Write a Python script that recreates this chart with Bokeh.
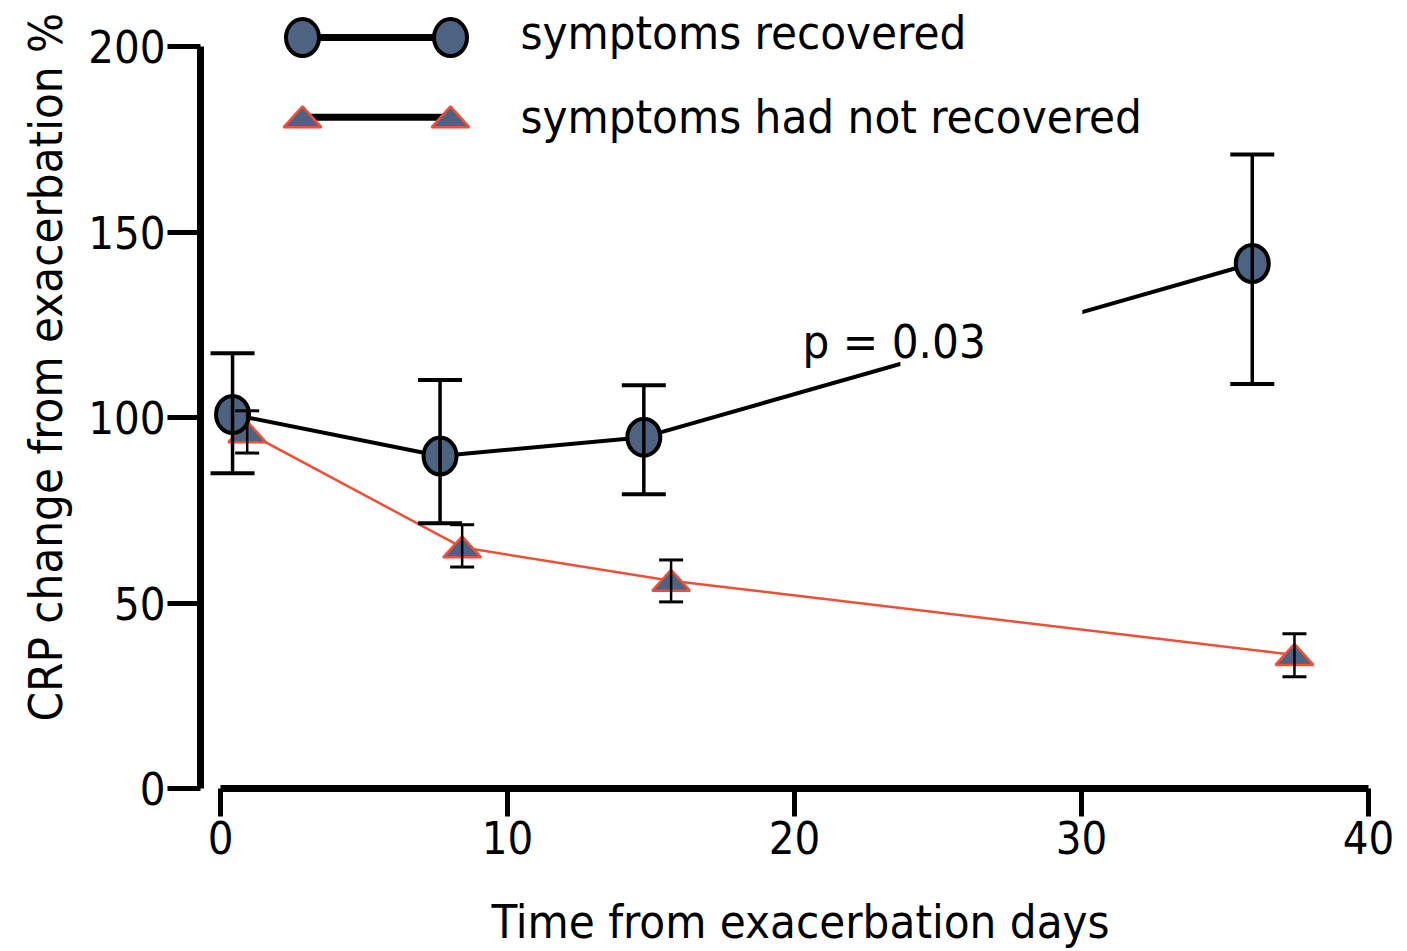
import numpy as np
from bokeh.plotting import figure
from bokeh.models import Range1d, FixedTicker, Whisker, ColumnDataSource, Label, BoxAnnotation, TeeHead, Title
from bokeh.embed import file_html
from bokeh.resources import INLINE

# ---------------- data ----------------
days_rec = [0.42, 7.65, 14.75, 35.95]
crp_rec = [100.8, 89.6, 94.7, 141.5]
rec_low = [85.0, 71.5, 79.3, 109.0]
rec_high = [117.3, 110.1, 108.7, 170.9]

days_not = [0.93, 8.42, 15.70, 37.42]
crp_not = [96.0, 65.0, 56.0, 36.0]
not_low = [90.4, 59.7, 50.3, 30.1]
not_high = [101.8, 71.1, 61.6, 41.7]

x_ticks = [0, 10, 20, 30, 40]
y_ticks = [0, 50, 100, 150, 200]
series_names = ["symptoms recovered", "symptoms had not recovered"]
x_title = "Time from exacerbation days"
y_title = "CRP change from exacerbation %"
p_text = "p = 0.03"

FONT = "DejaVu Sans Condensed"
FILL = "#4E6282"
RED = "#EF4F37"

p = figure(width=1407, height=951, x_range=Range1d(-0.697, 41.115), y_range=Range1d(0, 212.4),
           output_backend="svg", toolbar_location=None,
           min_border_left=200, min_border_right=7, min_border_top=0, min_border_bottom=162)
p.outline_line_color = None
p.xgrid.visible = False
p.ygrid.visible = False

# axes
for ax, ticks, bounds in ((p.xaxis, x_ticks, (0, 40)), (p.yaxis, y_ticks, (0, 200))):
    ax.ticker = FixedTicker(ticks=ticks)
    ax.bounds = bounds
    ax.axis_line_width = 7
    ax.axis_line_color = "black"
    ax.major_tick_line_width = 5
    ax.major_tick_line_color = "black"
    ax.major_tick_in = 0
    ax.minor_tick_line_color = None
    ax.major_label_text_font = FONT
    ax.major_label_text_font_size = "45px"
    ax.major_label_text_color = "black"

p.xaxis.major_tick_out = 28
p.yaxis.major_tick_out = 33
p.xaxis.major_label_standoff = 4
p.yaxis.major_label_standoff = 2

p.xaxis.axis_label = x_title
p.xaxis.axis_label_standoff = 37
p.xaxis.axis_label_text_font = FONT
p.xaxis.axis_label_text_font_size = "47px"
p.xaxis.axis_label_text_font_style = "normal"
p.xaxis.axis_label_text_color = "black"

# y title as a side title (placed off-centre like the reference)
p.add_layout(Title(text=y_title, align="left", offset=67, standoff=26, text_font=FONT,
                   text_font_size="47px", text_font_style="normal", text_color="black"), "left")

# ---------- not recovered series (drawn first, underneath) ----------
src_not = ColumnDataSource(dict(x=days_not, y=crp_not, lo=not_low, hi=not_high))
p.line("x", "y", source=src_not, line_color=RED, line_width=2.5)
p.add_layout(Whisker(base="x", upper="hi", lower="lo", source=src_not, line_width=2.5, line_color="black",
                     upper_head=TeeHead(size=24, line_width=3), lower_head=TeeHead(size=24, line_width=3),
                     level="glyph"))
tri_dx, tri_base, tri_apex = 0.66, 2.69, 2.96
xs_not = [[x - tri_dx, x + tri_dx, x] for x in days_not]
ys_not = [[y - tri_base, y - tri_base, y + tri_apex] for y in crp_not]
p.patches(xs_not, ys_not, fill_color=FILL, line_color=RED, line_width=2.5)

# ---------- recovered series ----------
src_rec = ColumnDataSource(dict(x=days_rec, y=crp_rec, lo=rec_low, hi=rec_high))
p.line("x", "y", source=src_rec, line_color="black", line_width=4)
p.add_layout(Whisker(base="x", upper="hi", lower="lo", source=src_rec, line_width=3.5, line_color="black",
                     upper_head=TeeHead(size=44, line_width=4), lower_head=TeeHead(size=44, line_width=4),
                     level="glyph"))
p.ellipse("x", "y", source=src_rec, width=33, height=37, width_units="screen", height_units="screen",
          fill_color=FILL, line_color="black", line_width=4)

# gap in the line behind the p-value
p.add_layout(BoxAnnotation(left=23.69, right=30.03, bottom=111.4, top=130.3,
                           fill_color="white", fill_alpha=1, line_alpha=0))
p.add_layout(Label(x=20.28, y=120.6, text=p_text, text_font=FONT, text_font_size="47px",
                   text_color="black", text_baseline="alphabetic"))

# ---------- legend (drawn by hand) ----------
lx = [2.857, 8.014]
ly_rec, ly_not = 202.4, 180.9
p.line(lx, [ly_rec, ly_rec], line_color="black", line_width=7)
p.ellipse(lx, [ly_rec, ly_rec], width=33, height=37, width_units="screen", height_units="screen",
          fill_color=FILL, line_color="black", line_width=4)
p.line(lx, [ly_not, ly_not], line_color="black", line_width=7)
p.patches([[x - tri_dx, x + tri_dx, x] for x in lx],
          [[ly_not - tri_base, ly_not - tri_base, ly_not + tri_apex] for _ in lx],
          fill_color=FILL, line_color=RED, line_width=2.5)
p.add_layout(Label(x=10.45, y=203.9, text=series_names[0], text_font=FONT, text_font_size="47px",
                   text_color="black", text_baseline="alphabetic"))
p.add_layout(Label(x=10.45, y=181.0, text=series_names[1], text_font=FONT, text_font_size="47px",
                   text_color="black", text_baseline="alphabetic"))

open("out.html", "w").write(file_html(p, INLINE))
